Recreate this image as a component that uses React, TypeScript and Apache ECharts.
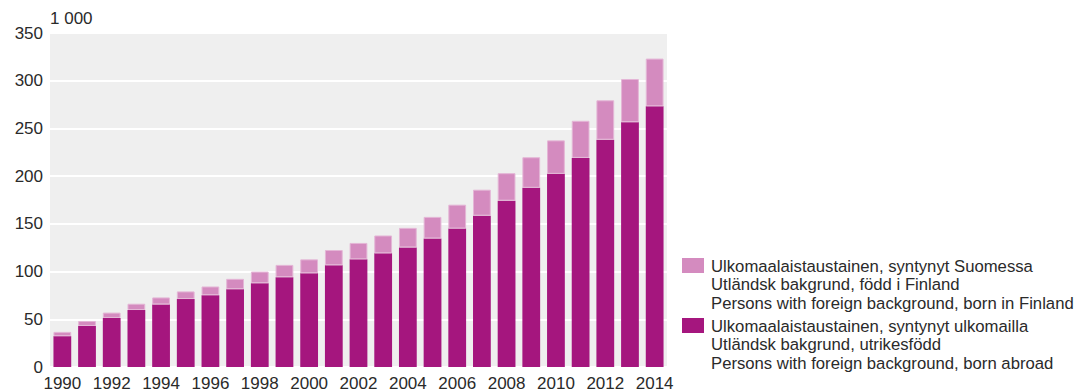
import React, { useEffect, useRef } from "react";
import * as echarts from "echarts";

const years = [
  "1990", "1991", "1992", "1993", "1994", "1995", "1996", "1997", "1998", "1999",
  "2000", "2001", "2002", "2003", "2004", "2005", "2006", "2007", "2008", "2009",
  "2010", "2011", "2012", "2013", "2014",
];

// thousands, born abroad
const bornAbroad = [
  32.3, 43.0, 51.4, 59.7, 65.6, 71.2, 75.3, 81.6, 87.8, 94.1,
  98.2, 106.6, 112.8, 119.1, 125.3, 134.7, 145.1, 158.6, 174.3, 187.8,
  202.4, 219.1, 238.2, 256.6, 273.2,
];

// thousands, born in Finland
const bornInFinland = [
  4.5, 5.2, 5.6, 6.6, 7.3, 8.0, 9.1, 10.8, 12.2, 12.9,
  14.6, 16.0, 17.2, 18.7, 20.5, 22.6, 25.0, 27.2, 28.8, 32.0,
  35.1, 38.9, 41.3, 45.2, 50.0,
];

const yTicks = { min: 0, max: 350, interval: 50 };
const unitLabel = "1 000";

const legendFinland = [
  "Ulkomaalaistaustainen, syntynyt Suomessa",
  "Utländsk bakgrund, född i Finland",
  "Persons with foreign background, born in Finland",
];
const legendAbroad = [
  "Ulkomaalaistaustainen, syntynyt ulkomailla",
  "Utländsk bakgrund, utrikesfödd",
  "Persons with foreign background, born abroad",
];

const DARK = "#A5167E";
const LIGHT = "#D48BBF";
const TEXT = "#2a2a2a";
const FONT = "'Liberation Sans', Arial, Helvetica, sans-serif";

export default function App() {
  const ref = useRef<HTMLDivElement>(null);

  useEffect(() => {
    document.body.style.margin = "0";
    if (!ref.current) return;
    const chart = echarts.init(ref.current, undefined, { renderer: "svg" });

    const legendBlock = (lines: string[], color: string, top: number) => [
      {
        type: "rect",
        shape: { x: 682, y: top - 8, width: 22, height: 15 },
        style: { fill: color },
      },
      ...lines.map((t, i) => ({
        type: "text",
        x: 711,
        y: top + i * 18.5,
        style: {
          text: t,
          font: `16.7px ${FONT}`,
          fill: TEXT,
          verticalAlign: "middle",
          align: "left",
        },
      })),
    ];

    chart.setOption({
      animation: false,
      textStyle: { fontFamily: FONT },
      grid: {
        left: 50,
        right: 412,
        top: 33,
        bottom: 24,
        show: true,
        backgroundColor: "#EFEFEF",
        borderWidth: 0,
        containLabel: false,
      },
      xAxis: {
        type: "category",
        data: years,
        axisLine: { show: false },
        axisTick: { show: false },
        axisLabel: {
          interval: 1,
          fontSize: 17,
          color: TEXT,
          margin: 8,
          fontFamily: FONT,
        },
      },
      yAxis: {
        type: "value",
        min: yTicks.min,
        max: yTicks.max,
        interval: yTicks.interval,
        axisLine: { show: false },
        axisTick: { show: false },
        axisLabel: { fontSize: 17, color: TEXT, margin: 7, fontFamily: FONT },
        splitLine: { show: true, lineStyle: { color: "#FFFFFF", width: 2 } },
      },
      series: [
        {
          type: "bar",
          name: legendAbroad[2],
          stack: "total",
          data: bornAbroad,
          barCategoryGap: "28%",
          itemStyle: { color: DARK },
        },
        {
          type: "bar",
          name: legendFinland[2],
          stack: "total",
          data: bornInFinland,
          barCategoryGap: "28%",
          itemStyle: { color: LIGHT, borderColor: "#E4B6D6", borderWidth: 1 },
        },
      ],
      graphic: [
        {
          type: "text",
          x: 50,
          y: 18,
          style: {
            text: unitLabel,
            font: `17px ${FONT}`,
            fill: TEXT,
            verticalAlign: "middle",
            align: "left",
          },
        },
        ...legendBlock(legendFinland, LIGHT, 266),
        ...legendBlock(legendAbroad, DARK, 326),
      ],
    });

    return () => chart.dispose();
  }, []);

  return <div ref={ref} style={{ width: 1079, height: 392 }} />;
}
